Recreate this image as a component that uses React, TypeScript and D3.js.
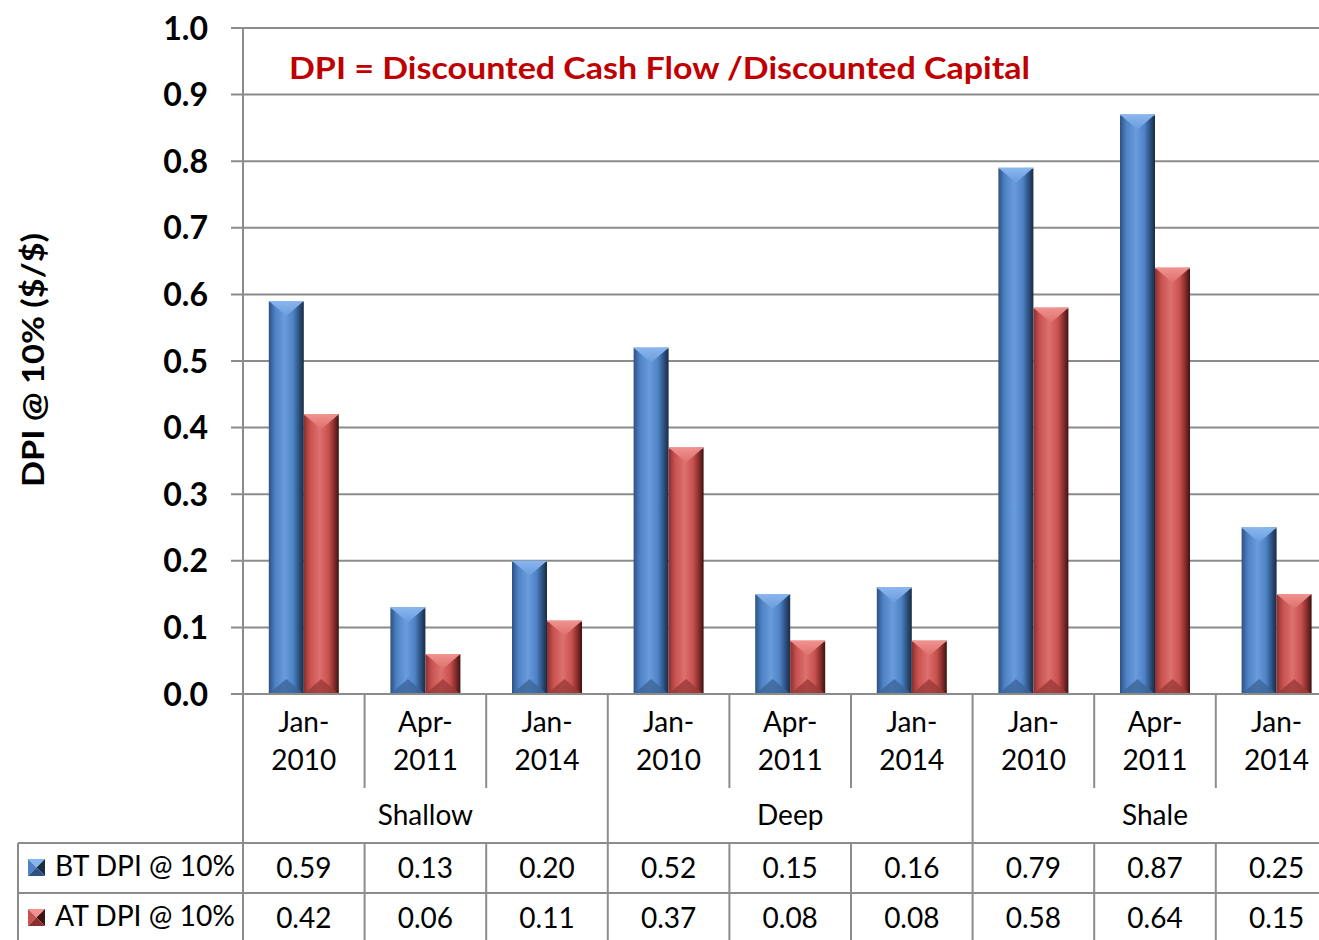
import React from "react";
import * as d3 from "d3";

const months = ["Jan-2010", "Apr-2011", "Jan-2014", "Jan-2010", "Apr-2011", "Jan-2014", "Jan-2010", "Apr-2011", "Jan-2014"];
const groups = ["Shallow", "Deep", "Shale"];
const btValues = [0.59, 0.13, 0.2, 0.52, 0.15, 0.16, 0.79, 0.87, 0.25];
const atValues = [0.42, 0.06, 0.11, 0.37, 0.08, 0.08, 0.58, 0.64, 0.15];
const seriesNames = ["BT DPI @ 10%", "AT DPI @ 10%"];
const yTicks = [0, 0.1, 0.2, 0.3, 0.4, 0.5, 0.6, 0.7, 0.8, 0.9, 1.0];
const title = "DPI = Discounted Cash Flow /Discounted Capital";
const yLabel = "DPI @ 10% ($/$)";

const W = 1319;
const H = 940;
const FONT = "Lato, 'Open Sans', sans-serif";

const palettes = [
  { id: "blue", dark: "#2d5282", mid: "#4d82c4", light: "#6a9cdc", edge: "#1a2c44", top: "#8ab6ee", bottom: "#3b6598" },
  { id: "red", dark: "#8a2f2d", mid: "#c8524f", light: "#dd706d", edge: "#3d1211", top: "#f0928f", bottom: "#9b3a38" },
];

function Bar({ x, y, w, h, p }: { x: number; y: number; w: number; h: number; p: any }) {
  const bev = Math.min(15, h / 2);
  const xc = x + w / 2;
  return (
    <g>
      <rect x={x} y={y} width={w} height={h} fill={`url(#grad-${p.id})`} />
      <polygon points={`${x},${y} ${x + w},${y} ${xc},${y + bev}`} fill={`url(#top-${p.id})`} />
      <polygon points={`${x},${y + h} ${x + w},${y + h} ${xc},${y + h - bev}`} fill={p.bottom} opacity={0.8} />
      <line x1={x} x2={x + w} y1={y + 0.5} y2={y + 0.5} stroke={p.top} strokeWidth={1} />
    </g>
  );
}

function LegendKey({ x, y, p }: { x: number; y: number; p: any }) {
  const s = 17;
  const cx = x + s / 2;
  const cy = y + s / 2;
  return (
    <g>
      <polygon points={`${x},${y} ${x + s},${y} ${cx},${cy}`} fill={p.top} />
      <polygon points={`${x},${y} ${x},${y + s} ${cx},${cy}`} fill={p.mid} />
      <polygon points={`${x + s},${y} ${x + s},${y + s} ${cx},${cy}`} fill={p.edge} />
      <polygon points={`${x},${y + s} ${x + s},${y + s} ${cx},${cy}`} fill={p.dark} />
    </g>
  );
}

export default function App() {
  const plotLeft = 243;
  const step = 121.6;
  const x = d3
    .scaleBand<number>()
    .domain(d3.range(months.length))
    .range([plotLeft, plotLeft + step * months.length])
    .paddingInner(0)
    .paddingOuter(0);
  const y = d3.scaleLinear().domain([0, 1]).range([694, 28]);
  const barW = 35;
  const grid = "#8c8c8c";

  const tableTop = 694;
  const monthRowBottom = 788;
  const groupRowBottom = 843;
  const row1Bottom = 893;
  const row2Bottom = 943;

  const boundaries = d3.range(months.length + 1).map((i) => plotLeft + i * step);

  return (
    <svg width={W} height={H} style={{ position: "absolute", left: 0, top: 0, background: "#fff" }} fontFamily={FONT}>
      <defs>
        {palettes.map((p) => (
          <React.Fragment key={p.id}>
            <linearGradient id={`grad-${p.id}`} x1="0" x2="1" y1="0" y2="0">
              <stop offset="0" stopColor={p.dark} />
              <stop offset="0.18" stopColor={p.mid} />
              <stop offset="0.45" stopColor={p.light} />
              <stop offset="0.7" stopColor={p.mid} />
              <stop offset="0.86" stopColor={p.dark} />
              <stop offset="1" stopColor={p.edge} />
            </linearGradient>
            <linearGradient id={`top-${p.id}`} x1="0" x2="0" y1="0" y2="1">
              <stop offset="0" stopColor={p.top} />
              <stop offset="1" stopColor={p.light} />
            </linearGradient>
          </React.Fragment>
        ))}
      </defs>

      {/* gridlines & ticks */}
      {yTicks.map((t) => (
        <g key={t}>
          <line x1={231} x2={W} y1={y(t)} y2={y(t)} stroke={grid} strokeWidth={2} />
          <text x={208} y={y(t)} dy="0.36em" textAnchor="end" fontSize={32} fontWeight="bold" fill="#000">
            {t.toFixed(1)}
          </text>
        </g>
      ))}
      <line x1={plotLeft} x2={plotLeft} y1={28} y2={H} stroke={grid} strokeWidth={2} />

      {/* y label */}
      <text
        transform={`translate(44,360) rotate(-90)`}
        textAnchor="middle"
        fontSize={31}
        fontWeight="bold"
        fill="#000"
        textLength={254}
        lengthAdjust="spacingAndGlyphs"
      >
        {yLabel}
      </text>

      {/* title */}
      <text x={289} y={79} fontSize={31} fontWeight="bold" fill="#c00000" textLength={741} lengthAdjust="spacingAndGlyphs">
        {title}
      </text>

      {/* bars */}
      {months.map((_, i) => {
        const c = (x(i) as number) + x.bandwidth() / 2;
        const yb = y(btValues[i]);
        const ya = y(atValues[i]);
        return (
          <g key={i}>
            <Bar x={c - barW} y={yb} w={barW} h={y(0) - yb} p={palettes[0]} />
            <Bar x={c} y={ya} w={barW} h={y(0) - ya} p={palettes[1]} />
          </g>
        );
      })}
      <line x1={231} x2={W} y1={y(0)} y2={y(0)} stroke={grid} strokeWidth={2} />

      {/* table: month row */}
      {boundaries.slice(1).map((b, i) => (
        <line
          key={"mb" + i}
          x1={b}
          x2={b}
          y1={tableTop}
          y2={(i + 1) % 3 === 0 ? row2Bottom : monthRowBottom}
          stroke={grid}
          strokeWidth={2}
        />
      ))}
      {boundaries.slice(1).map((b, i) =>
        (i + 1) % 3 !== 0 ? (
          <line key={"db" + i} x1={b} x2={b} y1={groupRowBottom} y2={row2Bottom} stroke={grid} strokeWidth={2} />
        ) : null
      )}
      {months.map((m, i) => {
        const c = (x(i) as number) + x.bandwidth() / 2;
        const [a, b] = m.split("-");
        return (
          <g key={"m" + i}>
            <text x={c} y={722} dy="0.35em" textAnchor="middle" fontSize={28} fill="#000">
              {a + "-"}
            </text>
            <text x={c} y={760} dy="0.35em" textAnchor="middle" fontSize={28} fill="#000">
              {b}
            </text>
          </g>
        );
      })}
      {groups.map((g, gi) => {
        const c = plotLeft + (gi * 3 + 1.5) * step;
        return (
          <text key={g} x={c} y={815} dy="0.35em" textAnchor="middle" fontSize={28} fill="#000">
            {g}
          </text>
        );
      })}

      {/* data rows */}
      <line x1={18} x2={W} y1={groupRowBottom} y2={groupRowBottom} stroke={grid} strokeWidth={2} />
      <line x1={18} x2={W} y1={row1Bottom} y2={row1Bottom} stroke={grid} strokeWidth={2} />
      <line x1={18} x2={18} y1={groupRowBottom} y2={row2Bottom} stroke={grid} strokeWidth={2} />
      {[btValues, atValues].map((vals, r) => {
        const cy = r === 0 ? 868 : 918;
        return (
          <g key={"r" + r}>
            <LegendKey x={28} y={cy - 9} p={palettes[r]} />
            <text x={55} y={cy - 2} dy="0.35em" fontSize={28} fill="#000" textLength={180} lengthAdjust="spacingAndGlyphs">
              {seriesNames[r]}
            </text>
            {vals.map((v, i) => (
              <text
                key={i}
                x={(x(i) as number) + x.bandwidth() / 2}
                y={cy}
                dy="0.35em"
                textAnchor="middle"
                fontSize={28}
                fill="#000"
              >
                {v.toFixed(2)}
              </text>
            ))}
          </g>
        );
      })}
    </svg>
  );
}
